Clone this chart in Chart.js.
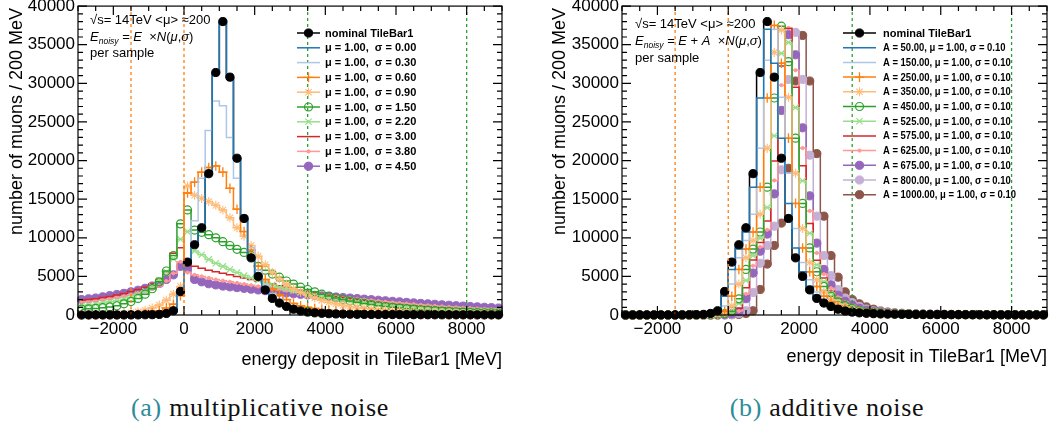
<!DOCTYPE html>
<html>
<head>
<meta charset="utf-8">
<script src="https://cdn.jsdelivr.net/npm/chart.js@4.4.1/dist/chart.umd.min.js"></script>
<style>
  body { margin: 0; background: #fff; }
  #wrap { position: relative; width: 1059px; height: 427px; overflow: hidden; }
  .panel { position: absolute; top: 0; height: 375px; }
  .cap { position: absolute; top: 395px; font-family: "Liberation Serif", serif; font-size: 26px;
         letter-spacing: 0.7px; color: #111; text-align: center; line-height: 26px; }
  .cap span { color: #2e8b99; }
</style>
</head>
<body>
<div id="wrap">
  <div class="panel" style="left:0;width:530px"><canvas id="multChart"></canvas></div>
  <div class="panel" style="left:530px;width:529px"><canvas id="addChart"></canvas></div>
  <div class="cap" style="left:0;width:520px"><span>(a)</span> multiplicative noise</div>
  <div class="cap" style="left:530px;width:594px"><span>(b)</span> additive noise</div>
</div>
<script>
// binning of the histograms (MeV)
const binLo = -3000, binHi = 9000, binWidth = 200
const binCenters = Array.from({length: (binHi - binLo) / binWidth}, (_, i) => binLo + binWidth * (i + 0.5))

const xTicks = [-2000, 0, 2000, 4000, 6000, 8000]
const yTicks = [0, 5000, 10000, 15000, 20000, 25000, 30000, 35000, 40000]
const xMinor = 500, yMinor = 1000
const cutLines = [-1500, 0, 3500, 8000]

// noise settings shown in the legends
const muVal = 1.00
const sigmaVals = [0.00, 0.30, 0.60, 0.90, 1.50, 2.20, 3.00, 3.80, 4.50]
const ampVals = [50, 150, 250, 350, 450, 525, 575, 625, 675, 800, 1000]
const ampSigma = 0.10

// number of muons per 200 MeV bin, bin centres -2900 ... 8900
const nominal = [0, 10, 10, 10, 10, 10, 15, 15, 20, 30,
  40, 80, 200, 550, 3050, 6850, 9100, 11300, 18300, 31400,
  38000, 30800, 20300, 12500, 7400, 5000, 3250, 2150, 1550, 1100,
  750, 520, 380, 280, 220, 170, 140, 120, 100, 90,
  80, 70, 65, 60, 55, 50, 45, 40, 38, 35,
  32, 30, 28, 26, 24, 22, 20, 18, 17, 16]

// (a) multiplicative noise
const mSig000 = nominal
const mSig030 = [0, 0, 0, 0, 0, 0, 0, 10, 10, 20,
  40, 90, 250, 800, 3300, 7000, 12200, 17700, 23900, 27700,
  27100, 23000, 17700, 12900, 8700, 5800, 4000, 2800, 2000, 1450,
  1050, 780, 580, 440, 340, 270, 220, 180, 150, 130,
  110, 95, 85, 75, 68, 62, 56, 50, 46, 42,
  38, 35, 32, 30, 28, 26, 24, 22, 20, 18]
const mSig060 = [10, 10, 10, 10, 10, 15, 20, 40, 80, 160,
  300, 550, 900, 1400, 2500, 15800, 17200, 18500, 19100, 19300,
  18500, 16400, 13700, 10800, 8400, 6300, 4600, 3400, 2600, 2000,
  1500, 1200, 1000, 850, 700, 600, 500, 420, 350, 300,
  250, 210, 180, 150, 130, 115, 100, 90, 80, 72,
  65, 60, 55, 50, 46, 42, 38, 35, 32, 30]
const mSig090 = [40, 50, 60, 80, 100, 140, 200, 280, 400, 600,
  900, 1300, 1900, 2700, 3700, 16700, 15500, 15100, 14700, 14200,
  13600, 12600, 11300, 10200, 9000, 7600, 6500, 5500, 4700, 4000,
  3400, 2950, 2550, 2200, 1900, 1650, 1450, 1250, 1100, 950,
  850, 750, 670, 600, 540, 480, 430, 390, 350, 320,
  290, 260, 240, 220, 200, 185, 170, 160, 150, 140]
const mSig150 = [750, 800, 850, 950, 1050, 1200, 1450, 1750, 2150, 2700,
  3400, 4300, 5700, 7700, 11800, 13600, 11000, 10700, 10400, 10000,
  9500, 9000, 8500, 8100, 7700, 6300, 5800, 5300, 4900, 4400,
  4000, 3600, 3300, 3000, 2700, 2450, 2200, 2000, 1800, 1650,
  1500, 1350, 1200, 1100, 1000, 900, 820, 750, 680, 620,
  560, 510, 460, 420, 380, 350, 320, 290, 270, 250]
const mSig220 = [1200, 1300, 1400, 1550, 1700, 1850, 2050, 2300, 2650, 3100,
  3700, 4500, 5600, 7300, 9800, 10800, 8300, 7800, 7200, 6700,
  6300, 5900, 5500, 5100, 4800, 4500, 4200, 3900, 3600, 3400,
  3150, 2950, 2750, 2550, 2400, 2250, 2100, 1950, 1800, 1700,
  1600, 1500, 1400, 1300, 1200, 1150, 1080, 1000, 940, 880,
  820, 770, 720, 680, 640, 600, 560, 530, 500, 470]
const mSig300 = [1900, 2000, 2100, 2250, 2400, 2600, 2800, 3050, 3300, 3600,
  4000, 4600, 5500, 8000, 8700, 6700, 6300, 6050, 5800, 5600,
  5400, 5200, 5000, 4800, 4600, 4400, 4200, 4000, 3800, 3600,
  3400, 3200, 3000, 2850, 2700, 2550, 2400, 2250, 2100, 1980,
  1860, 1750, 1650, 1550, 1450, 1370, 1290, 1200, 1130, 1060,
  1000, 940, 880, 820, 770, 720, 670, 630, 590, 550]
const mSig380 = [1700, 1800, 1900, 2000, 2150, 2300, 2450, 2650, 2850, 3100,
  3400, 3800, 4400, 5400, 6900, 5500, 5200, 5000, 4800, 4600,
  4450, 4300, 4150, 4000, 3850, 3700, 3550, 3400, 3300, 3150,
  3050, 2950, 2850, 2700, 2600, 2500, 2400, 2300, 2200, 2100,
  2000, 1900, 1800, 1720, 1640, 1560, 1480, 1400, 1320, 1250,
  1180, 1110, 1050, 990, 930, 880, 830, 780, 740, 700]
const mSig450 = [2000, 2100, 2200, 2350, 2500, 2650, 2800, 3000, 3200, 3450,
  3750, 4100, 4600, 5200, 6300, 6100, 4600, 4300, 4050, 3900,
  3750, 3650, 3550, 3450, 3350, 3250, 3150, 3050, 2950, 2850,
  2750, 2680, 2610, 2540, 2470, 2400, 2330, 2260, 2190, 2120,
  2050, 1980, 1910, 1840, 1770, 1700, 1630, 1560, 1500, 1440,
  1380, 1320, 1260, 1200, 1150, 1100, 1050, 1000, 950, 900]

// (b) additive noise
const aA0050 = [0, 0, 0, 0, 0, 0, 10, 10, 15, 25,
  35, 70, 170, 460, 2430, 5900, 8540, 10750, 16550, 28100,
  37000, 32600, 22900, 14450, 8680, 5600, 3690, 2430, 1700, 1210,
  840, 580, 420, 310, 240, 180, 150, 125, 105, 90,
  80, 72, 66, 61, 56, 51, 46, 41, 38, 35,
  32, 30, 28, 26, 24, 22, 20, 18, 17, 16]
const aA0150 = [0, 0, 0, 0, 0, 0, 5, 10, 10, 20,
  30, 50, 110, 290, 1180, 4000, 7410, 9650, 13050, 21600,
  33000, 37000, 28200, 18350, 11200, 6800, 4560, 2980, 2000, 1440,
  1010, 690, 490, 355, 265, 210, 160, 135, 115, 100,
  85, 75, 67, 62, 57, 52, 47, 42, 39, 36,
  33, 30, 28, 26, 24, 22, 20, 18, 17, 16]
const aA0250 = [0, 0, 0, 0, 0, 0, 0, 10, 10, 15,
  25, 35, 70, 170, 460, 2430, 5900, 8540, 10750, 16550,
  28100, 37500, 32600, 22900, 14450, 8680, 5600, 3690, 2430, 1700,
  1210, 840, 580, 420, 310, 240, 180, 150, 125, 105,
  90, 80, 72, 66, 61, 56, 51, 46, 41, 38,
  35, 32, 30, 28, 26, 24, 22, 20, 18, 17]
const aA0350 = [0, 0, 0, 0, 0, 0, 0, 5, 10, 10,
  20, 30, 50, 110, 290, 1180, 4000, 7410, 9650, 13050,
  21600, 34000, 36900, 28200, 18350, 11200, 6800, 4560, 2980, 2000,
  1440, 1010, 690, 490, 355, 265, 210, 160, 135, 115,
  100, 85, 75, 67, 62, 57, 52, 47, 42, 39,
  36, 33, 30, 28, 26, 24, 22, 20, 18, 17]
const aA0450 = [0, 0, 0, 0, 0, 0, 0, 0, 10, 10,
  15, 25, 35, 70, 170, 460, 2100, 5900, 8540, 10750,
  16550, 28100, 37400, 32800, 22900, 14450, 8680, 5600, 3690, 2430,
  1700, 1210, 840, 580, 420, 310, 240, 180, 150, 125,
  105, 90, 80, 72, 66, 61, 56, 51, 46, 41,
  38, 35, 32, 30, 28, 26, 24, 22, 20, 18]
const aA0525 = [0, 0, 0, 0, 0, 0, 0, 0, 5, 10,
  10, 20, 30, 55, 125, 330, 1490, 4470, 7690, 9930,
  13930, 23210, 33880, 35300, 26860, 17380, 10590, 6500, 4340, 2840,
  1930, 1380, 970, 660, 470, 340, 260, 200, 160, 130,
  110, 95, 85, 77, 70, 64, 58, 53, 48, 44,
  40, 37, 34, 31, 29, 27, 25, 23, 21, 19]
const aA0575 = [0, 0, 0, 0, 0, 0, 0, 0, 0, 5,
  8, 15, 25, 45, 95, 240, 860, 3520, 7130, 9380,
  12180, 19940, 32230, 37100, 29490, 19330, 11860, 7100, 4780, 3110,
  2080, 1490, 1060, 720, 500, 370, 270, 210, 170, 140,
  120, 100, 88, 80, 73, 66, 60, 55, 50, 46,
  42, 38, 35, 32, 30, 28, 26, 24, 22, 20]
const aA0625 = [0, 0, 0, 0, 0, 0, 0, 0, 0, 5,
  5, 10, 20, 40, 75, 185, 510, 2740, 6380, 8820,
  11030, 17430, 29760, 37180, 31700, 21610, 13480, 8040, 5300, 3470,
  2290, 1630, 1160, 790, 550, 400, 290, 230, 180, 140,
  120, 105, 92, 82, 75, 68, 62, 57, 52, 48,
  44, 40, 36, 33, 31, 29, 27, 25, 23, 21]
const aA0675 = [0, 0, 0, 0, 0, 0, 0, 0, 0, 5,
  5, 10, 15, 30, 65, 155, 420, 2110, 5430, 8260,
  10480, 15680, 26490, 36300, 33700, 24240, 15430, 9310, 5900, 3910,
  2560, 1780, 1270, 880, 610, 430, 320, 240, 190, 150,
  130, 110, 96, 85, 77, 70, 64, 58, 53, 49,
  45, 41, 37, 34, 32, 30, 28, 26, 24, 22]
const aA0800 = [0, 0, 0, 0, 0, 0, 0, 0, 0, 0,
  5, 5, 10, 20, 30, 80, 200, 550, 2900, 6700,
  9000, 11500, 18800, 30500, 36600, 30500, 20700, 12800, 7700, 5100,
  3300, 2200, 1600, 1120, 770, 530, 390, 290, 225, 175,
  145, 125, 105, 92, 82, 75, 68, 62, 56, 51,
  47, 43, 39, 36, 33, 31, 29, 27, 25, 23]
const aA1000 = [0, 0, 0, 0, 0, 0, 0, 0, 0, 0,
  0, 5, 5, 10, 20, 40, 80, 200, 550, 3300,
  6600, 9000, 11900, 19000, 30300, 36200, 30300, 20900, 12800, 7700,
  4900, 3000, 2000, 1450, 1050, 750, 520, 380, 280, 220,
  170, 140, 120, 100, 90, 80, 72, 66, 61, 56,
  51, 46, 41, 38, 35, 32, 30, 28, 26, 24]

const FONT = '"Liberation Sans", Arial, sans-serif'
const C = {
  black: '#000000', blue: '#1f77b4', lblue: '#aec7e8', orange: '#ff7f0e', peach: '#ffbb78',
  green: '#2ca02c', lgreen: '#98df8a', red: '#d62728', pink: '#ff9896',
  purple: '#9467bd', lpurple: '#c5b0d5', brown: '#8c564b'
}
// marker styles
const MK = {
  dot: {pointStyle: 'circle', radius: 4.1, fill: true, bw: 1},
  plus: {pointStyle: 'cross', radius: 4.8, fill: false, bw: 1.3},
  star: {pointStyle: 'star', radius: 4.5, fill: false, bw: 1.1},
  open: {pointStyle: 'circle', radius: 4, fill: false, bw: 1.2},
  xmark: {pointStyle: 'crossRot', radius: 4.4, fill: false, bw: 1.2},
  tiny: {pointStyle: 'circle', radius: 1.6, fill: true, bw: 1},
}

function histSet(s, part) {
  var mk = s.mk
  var ds = {
    label: s.label,
    data: binCenters.map((x, i) => ({x: x, y: s.vals[i]})),
    borderColor: s.color, borderWidth: 1.5, stepped: 'middle', fill: false, clip: false,
    pointStyle: mk ? mk.pointStyle : 'circle',
    pointRadius: mk ? mk.radius : 0,
    pointHoverRadius: 0,
    pointBorderWidth: mk ? mk.bw : 0,
    pointBorderColor: s.color,
    pointBackgroundColor: mk && mk.fill ? s.color : 'rgba(0,0,0,0)'
  }
  if (part === 'points') ds.showLine = false
  if (part === 'line') ds.pointRadius = 0
  return ds
}

function drawMarker(ctx, mk, color, x, y) {
  if (!mk) return
  var r = mk.radius
  ctx.lineWidth = mk.bw
  ctx.strokeStyle = color
  ctx.fillStyle = color
  ctx.beginPath()
  if (mk.pointStyle === 'circle') {
    ctx.arc(x, y, r, 0, Math.PI * 2)
    if (mk.fill) ctx.fill()
    ctx.stroke()
    return
  }
  var segs = []
  if (mk.pointStyle !== 'crossRot') segs.push([r, 0], [0, r])
  if (mk.pointStyle !== 'cross') {
    var d = r * Math.SQRT1_2
    segs.push([d, d], [d, -d])
  }
  segs.forEach(function (p) {
    ctx.moveTo(x - p[0], y - p[1])
    ctx.lineTo(x + p[0], y + p[1])
  })
  ctx.stroke()
}

// text made of plain / italic / subscript pieces
function drawRich(ctx, x, y, parts) {
  parts.forEach(function (p) {
    ctx.font = (p.it ? 'italic ' : '') + (p.size || 13) + 'px ' + FONT
    ctx.fillText(p.t, x, y + (p.dy || 0))
    x += ctx.measureText(p.t).width
  })
}

function decoPlugin(cfg) {
  return {
    id: 'deco',
    afterDatasetsDraw(chart) {
      var ctx = chart.ctx, a = chart.chartArea, sx = chart.scales.x, sy = chart.scales.y
      ctx.save()
      // frame + inward ticks on all sides
      ctx.strokeStyle = '#000'
      ctx.lineWidth = 1.2
      ctx.setLineDash([])
      ctx.strokeRect(a.left, a.top, a.right - a.left, a.bottom - a.top)
      ctx.beginPath()
      for (var v = binLo; v <= binHi; v += xMinor) {
        var px = sx.getPixelForValue(v), len = v % 2000 === 0 ? 9 : 5
        ctx.moveTo(px, a.bottom); ctx.lineTo(px, a.bottom - len)
        ctx.moveTo(px, a.top); ctx.lineTo(px, a.top + len)
      }
      for (var w = 0; w <= 40000; w += yMinor) {
        var py = sy.getPixelForValue(w), l2 = w % 5000 === 0 ? 9 : 5
        ctx.moveTo(a.left, py); ctx.lineTo(a.left + l2, py)
        ctx.moveTo(a.right, py); ctx.lineTo(a.right - l2, py)
      }
      ctx.stroke()

      // axis titles
      ctx.fillStyle = '#000'
      ctx.font = '18px ' + FONT
      ctx.textAlign = 'right'
      ctx.textBaseline = 'alphabetic'
      ctx.fillText('energy deposit in TileBar1 [MeV]', a.right, cfg.xTitleY)
      ctx.save()
      ctx.translate(cfg.yTitleX, 8)
      ctx.rotate(-Math.PI / 2)
      ctx.fillText('number of muons / 200 MeV', 0, 0)
      ctx.restore()

      // top-left annotation
      ctx.textAlign = 'left'
      ctx.font = '13px ' + FONT
      ctx.fillText('\u221As= 14TeV <\u03BC> \u2248200', cfg.txtX, cfg.txtY[0])
      drawRich(ctx, cfg.txtX, cfg.txtY[1], cfg.formula)
      ctx.font = '13px ' + FONT
      ctx.fillText('per sample', cfg.txtX, cfg.txtY[2])

      // legend
      var L = cfg.legend
      ctx.textBaseline = 'middle'
      cfg.series.forEach(function (s, k) {
        var y = L.y0 + k * L.dy
        ctx.strokeStyle = s.color
        ctx.lineWidth = 1.5
        ctx.beginPath()
        ctx.moveTo(L.x0, y); ctx.lineTo(L.x1, y)
        ctx.stroke()
        drawMarker(ctx, s.mk, s.color, (L.x0 + L.x1) / 2, y)
        ctx.fillStyle = '#000'
        ctx.font = 'bold ' + L.size + 'px ' + FONT
        var squeeze = k > 0 ? L.squeeze : 1
        ctx.save()
        ctx.translate(L.tx, y + 0.5)
        ctx.scale(squeeze, 1)
        ctx.fillText(s.label, 0, 0)
        ctx.restore()
      })
      ctx.restore()
    }
  }
}

function makePanel(canvasId, cfg) {
  var datasets = []
  var cutColors = [C.orange, C.orange, C.green, C.green]
  cutLines.forEach(function (v, k) {
    datasets.push({
      data: [{x: v, y: 0}, {x: v, y: 40000}],
      borderColor: cutColors[k], borderWidth: 1.3, borderDash: [3, 3],
      pointRadius: 0, clip: false
    })
  })
  // nominal markers on top, nominal step line underneath everything
  datasets.push(histSet(cfg.series[0], 'points'))
  cfg.series.slice(1).forEach(function (s) { datasets.push(histSet(s)) })
  datasets.push(histSet(cfg.series[0], 'line'))

  new Chart(document.getElementById(canvasId), {
    type: 'line',
    data: {datasets: datasets},
    options: {
      animation: false, responsive: true, maintainAspectRatio: false, events: [],
      layout: {padding: {top: 6, right: cfg.padRight, left: 0, bottom: 0}},
      plugins: {legend: {display: false}, tooltip: {enabled: false}},
      scales: {
        x: {
          type: 'linear', min: binLo, max: binHi,
          afterBuildTicks: function (s) { s.ticks = xTicks.map(v => ({value: v})) },
          afterFit: function (s) { s.height = 60; s.paddingLeft = 0; s.paddingRight = 0 },
          grid: {display: false, drawTicks: false}, border: {display: false},
          ticks: {
            font: {family: FONT, size: 17}, color: '#000', padding: 4,
            maxRotation: 0, autoSkip: false,
            callback: v => (v < 0 ? '\u2212' + Math.abs(v) : String(v))
          }
        },
        y: {
          min: 0, max: 40000,
          afterBuildTicks: function (s) { s.ticks = yTicks.map(v => ({value: v})) },
          afterFit: function (s) { s.width = cfg.axisW; s.paddingTop = 0; s.paddingBottom = 0 },
          grid: {display: false, drawTicks: false}, border: {display: false},
          ticks: {font: {family: FONT, size: 17}, color: '#000', padding: 3, callback: v => String(v)}
        }
      }
    },
    plugins: [decoPlugin(cfg)]
  })
}

// ---- panel (a)
var multMarks = [null, null, MK.plus, MK.star, MK.open, MK.xmark, null, MK.tiny, MK.dot]
var multColors = [C.blue, C.lblue, C.orange, C.peach, C.green, C.lgreen, C.red, C.pink, C.purple]
var multVals = [mSig000, mSig030, mSig060, mSig090, mSig150, mSig220, mSig300, mSig380, mSig450]
var multSeries = [{label: 'nominal TileBar1', vals: nominal, color: C.black, mk: MK.dot}]
sigmaVals.forEach(function (sg, k) {
  multSeries.push({
    label: '\u03BC = ' + muVal.toFixed(2) + ',  \u03C3 = ' + sg.toFixed(2),
    vals: multVals[k], color: multColors[k], mk: multMarks[k]
  })
})

makePanel('multChart', {
  series: multSeries, axisW: 78, padRight: 28, xTitleY: 365, yTitleX: 22,
  txtX: 90, txtY: [24, 41, 57],
  formula: [{t: 'E', it: 1}, {t: 'noisy', it: 1, size: 8.5, dy: 3}, {t: ' = '}, {t: 'E', it: 1},
    {t: '  \u00D7'}, {t: 'N', it: 1}, {t: '('}, {t: '\u03BC', it: 1}, {t: ','}, {t: '\u03C3', it: 1}, {t: ')'}],
  legend: {x0: 297, x1: 320, tx: 325, y0: 33, dy: 14.8, size: 11, squeeze: 1}
})

// ---- panel (b)
var addMarks = [null, null, MK.plus, MK.star, MK.open, MK.xmark, null, MK.tiny, MK.dot, MK.dot, MK.dot]
var addColors = [C.blue, C.lblue, C.orange, C.peach, C.green, C.lgreen, C.red, C.pink, C.purple, C.lpurple, C.brown]
var addVals = [aA0050, aA0150, aA0250, aA0350, aA0450, aA0525, aA0575, aA0625, aA0675, aA0800, aA1000]
var addSeries = [{label: 'nominal TileBar1', vals: nominal, color: C.black, mk: MK.dot}]
ampVals.forEach(function (amp, k) {
  addSeries.push({
    label: 'A = ' + amp.toFixed(2) + ', \u03BC = ' + muVal.toFixed(2) + ', \u03C3 = ' + ampSigma.toFixed(2),
    vals: addVals[k], color: addColors[k], mk: addMarks[k]
  })
})

makePanel('addChart', {
  series: addSeries, axisW: 92, padRight: 12, xTitleY: 362, yTitleX: 35,
  txtX: 105, txtY: [28, 45, 62],
  formula: [{t: 'E', it: 1}, {t: 'noisy', it: 1, size: 8.5, dy: 3}, {t: ' = '}, {t: 'E', it: 1},
    {t: ' + '}, {t: 'A', it: 1}, {t: '  \u00D7'}, {t: 'N', it: 1}, {t: '('}, {t: '\u03BC', it: 1},
    {t: ','}, {t: '\u03C3', it: 1}, {t: ')'}],
  legend: {x0: 313, x1: 346, tx: 353, y0: 33, dy: 14.7, size: 11, squeeze: 0.86}
})
</script>
</body>
</html>
